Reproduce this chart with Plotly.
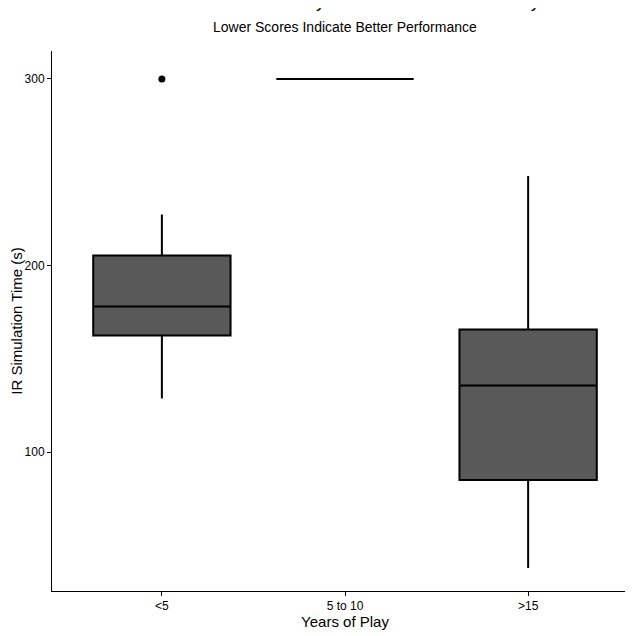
import plotly.graph_objects as go

categories = ["<5", "5 to 10", ">15"]
q1 = [162.5, 300, 85]
median = [178, 300, 135.7]
q3 = [205.4, 300, 165.7]
lower = [128.7, 300, 37.8]
upper = [227.3, 300, 248]
outlier_cat = ["<5"]
outlier_val = [300]

fig = go.Figure()
fig.add_trace(go.Box(x=categories, q1=q1, median=median, q3=q3,
                     lowerfence=lower, upperfence=upper,
                     fillcolor="#595959", line=dict(color="black", width=2),
                     width=0.75, whiskerwidth=0, boxpoints=False, showlegend=False))
fig.add_trace(go.Scatter(x=outlier_cat, y=outlier_val, mode="markers",
                         marker=dict(color="black", size=7), showlegend=False))

fig.update_layout(
    width=633, height=636, plot_bgcolor="white", paper_bgcolor="white",
    margin=dict(l=44, r=3, t=43, b=53, autoexpand=False),
    font=dict(family="Liberation Sans, Arial", color="black"),
    annotations=[
        dict(text="IR Simulation Time by Years of Video Game Play", xref="paper", yref="paper",
             x=0.5, y=1, yshift=38, xanchor="center", yanchor="bottom", showarrow=False,
             font=dict(size=18)),
        dict(text="Lower Scores Indicate Better Performance", xref="paper", yref="paper",
             x=0.5, y=1, yshift=14, xanchor="center", yanchor="bottom", showarrow=False,
             font=dict(size=14)),
    ],
    xaxis=dict(title=dict(text="Years of Play", font=dict(size=15), standoff=2),
               range=[-0.6, 2.6], showline=True, linecolor="black", linewidth=1,
               ticks="outside", ticklen=4, tickcolor="black", tickfont=dict(size=12),
               showgrid=False, zeroline=False),
    yaxis=dict(title=dict(text="IR Simulation Time (s)", font=dict(size=15), standoff=4),
               range=[25.5, 315], tickvals=[100, 200, 300], showline=True,
               linecolor="black", linewidth=1, ticks="outside", ticklen=4,
               tickcolor="black", tickfont=dict(size=12), showgrid=False, zeroline=False),
)
fig.write_html("out.html")
